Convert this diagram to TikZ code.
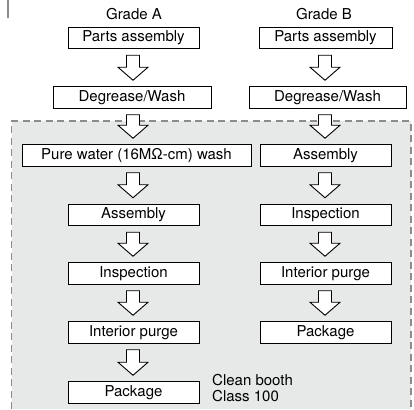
\documentclass[tikz,border=0pt]{standalone}
\usepackage{fontspec}
\setmainfont{TeX Gyre Heros}
\usetikzlibrary{calc}
\definecolor{regionfill}{HTML}{E7E8E8}
\definecolor{regionline}{HTML}{8C8C8C}
\tikzset{
  stepbox/.style={draw=black, fill=white, line width=1pt, inner sep=0pt,
    minimum height=21.5pt, font=\fontsize{15}{16}\selectfont},
  blockarrow/.style={draw=black, fill=white, line width=0.9pt, line join=miter},
  label text/.style={inner sep=0pt, font=\fontsize{15}{16}\selectfont}
}
\newcommand\blockarr[3]{%
  \draw[blockarrow] let \p1=(#1.south), \p2=(#2.north), \p3=(#3) in
    (\x3-6.5pt,\y1-6pt) -- (\x3+6.5pt,\y1-6pt) -- (\x3+6.5pt,\y2+19pt)
    -- (\x3+15pt,\y2+19pt) -- (\x3,\y2+6pt) -- (\x3-15pt,\y2+19pt)
    -- (\x3-6.5pt,\y2+19pt) -- cycle;}
\begin{document}
\begin{tikzpicture}[x=1pt,y=-1pt]
\useasboundingbox (0,0) rectangle (414,409);
% clean booth region
\fill[regionfill] (11.5,121) rectangle (411,409);
\draw[regionline, line width=1.5pt, dash pattern=on 7pt off 4.5pt]
  (11.5,409) -- (11.5,121) -- (411,121) -- (411,409);
\draw[regionline, line width=1.5pt] (8,0) -- (8,18);
% column axes
\coordinate (colA) at (133,0);
\coordinate (colB) at (325,0);
% headers
\node[label text] (gradeA) at (134,14) {Grade A};
\node[label text] (gradeB) at (324,14) {Grade B};
% Grade A
\node[stepbox, minimum width=131pt] (a1) at (133.5,38) {Parts assembly};
\node[stepbox, minimum width=158pt] (a2) at (132,97.5) {Degrease/Wash};
\node[stepbox, minimum width=229pt] (a3) at (136.5,155.5) {Pure water (16MΩ-cm) wash};
\node[stepbox, minimum width=131pt] (a4) at (133.5,215) {Assembly};
\node[stepbox, minimum width=131pt] (a5) at (133.5,273.5) {Inspection};
\node[stepbox, minimum width=131pt] (a6) at (133.5,332.5) {Interior purge};
\node[stepbox, minimum width=131pt] (a7) at (133.5,392.5) {Package};
% Grade B
\node[stepbox, minimum width=133pt] (b1) at (325.5,38) {Parts assembly};
\node[stepbox, minimum width=157pt] (b2) at (327.5,97.5) {Degrease/Wash};
\node[stepbox, minimum width=131pt] (b3) at (325.5,155.5) {Assembly};
\node[stepbox, minimum width=131pt] (b4) at (325.5,215) {Inspection};
\node[stepbox, minimum width=131pt] (b5) at (325.5,273.5) {Interior purge};
\node[stepbox, minimum width=131pt] (b6) at (325.5,332.5) {Package};
% region label
\node[label text, align=left, anchor=north west] (booth) at (212,374)
  {Clean booth\\Class 100};
% arrows
\blockarr{a1}{a2}{colA}
\blockarr{a2}{a3}{colA}
\blockarr{a3}{a4}{colA}
\blockarr{a4}{a5}{colA}
\blockarr{a5}{a6}{colA}
\blockarr{a6}{a7}{colA}
\blockarr{b1}{b2}{colB}
\blockarr{b2}{b3}{colB}
\blockarr{b3}{b4}{colB}
\blockarr{b4}{b5}{colB}
\blockarr{b5}{b6}{colB}
\end{tikzpicture}
\end{document}
